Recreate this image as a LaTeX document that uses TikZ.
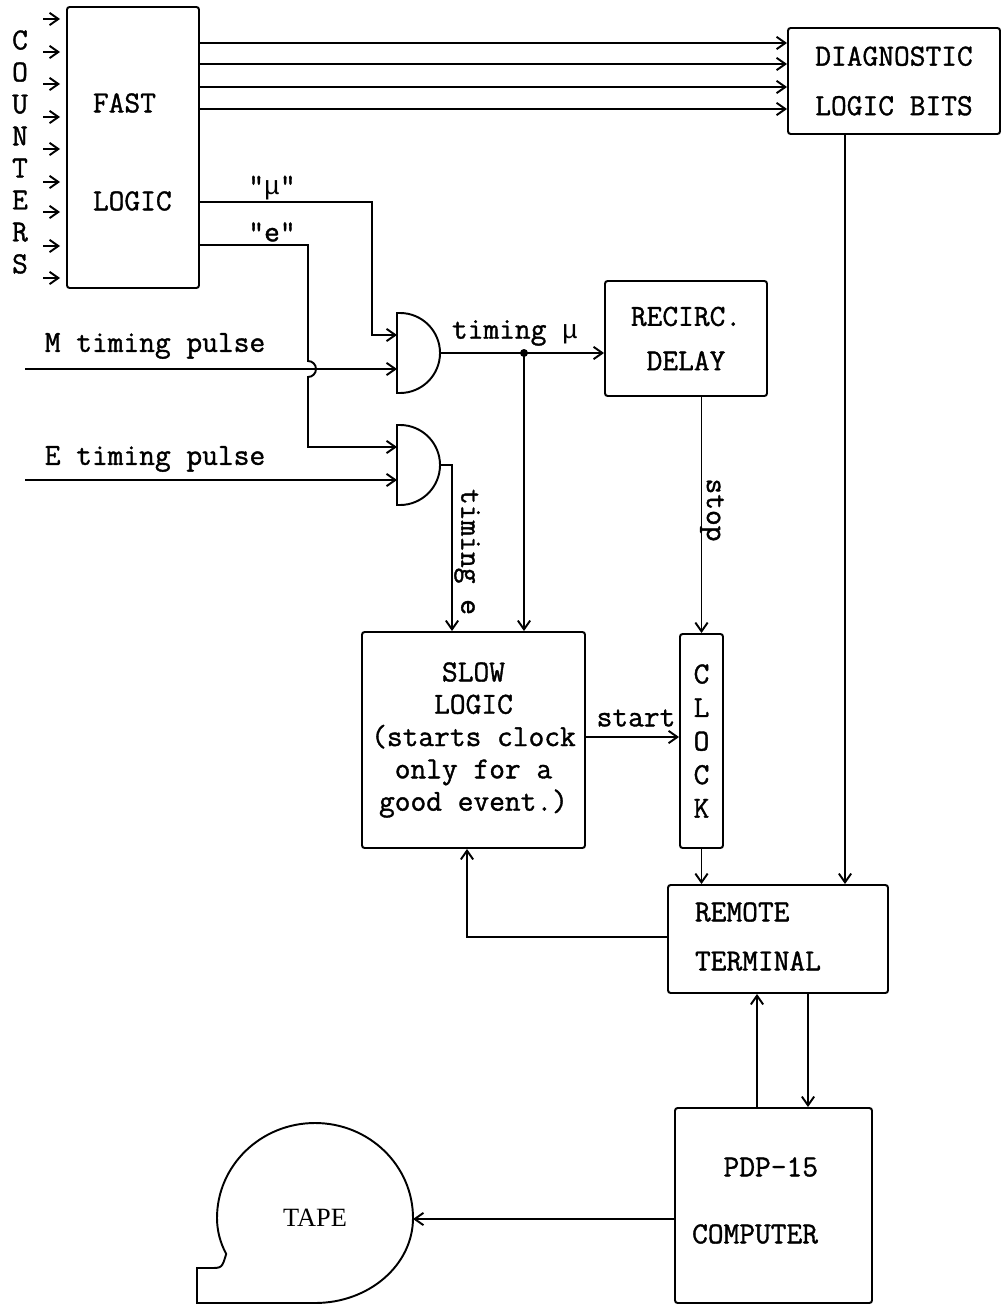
\documentclass[tikz,border=0pt]{standalone}
\usepackage{fontspec}
\setmonofont{Latin Modern Mono}[FakeBold=1.2]
\newfontfamily\tapefont{Liberation Serif}
\newfontfamily\mufont{Liberation Mono}
\usetikzlibrary{arrows.meta}
\newcommand{\pu}{0.02cm}
\newcommand{\mmu}{{\mufont\fontsize{15}{18}\selectfont μ}}
\tikzset{
  blk/.style={draw,rounded corners=1.5pt,inner sep=0pt,align=center},
  flow/.style={-{Straight Barb[length=5pt,width=7pt]}},
}

\begin{document}
\begin{tikzpicture}[x=0.02cm,y=-0.02cm,line width=1.1pt,
  font=\ttfamily\fontsize{17.4}{18.4}\selectfont]
\useasboundingbox (0,0) rectangle (1003,1314);
% blocks
\node[blk,minimum width=132*\pu,minimum height=281*\pu] (fast) at (133,147.5) {};
\node[anchor=west,inner sep=0pt] (fastA) at (92,103) {FAST};
\node[anchor=west,inner sep=0pt] (fastB) at (92,201) {LOGIC};
\node[align=center,inner sep=0pt,font=\ttfamily\fontsize{17.4}{18.2}\selectfont] (ctr) at (20,152) {C\\O\\U\\N\\T\\E\\R\\S};
\node[blk,minimum width=212*\pu,minimum height=106*\pu] (diag) at (894,81) {DIAGNOSTIC\\[9.8pt]LOGIC BITS};
\node[blk,minimum width=162*\pu,minimum height=115*\pu] (recirc) at (686,338.5) {RECIRC.\\[6.9pt]DELAY};
\node[blk,minimum width=223*\pu,minimum height=216*\pu] (slow) at (473.5,740) {SLOW\\LOGIC\\(starts clock\\only for a\\good event.)};
\node[blk,minimum width=43*\pu,minimum height=214*\pu] (clock) at (701.5,741) {C\\[0.7pt]L\\[0.7pt]O\\[0.7pt]C\\[0.7pt]K};
\node[blk,minimum width=220*\pu,minimum height=108*\pu] (remote) at (778,939) {};
\node[anchor=west,inner sep=0pt] (remA) at (694,912) {REMOTE};
\node[anchor=west,inner sep=0pt] (remB) at (694,961) {TERMINAL};
\node[blk,minimum width=197*\pu,minimum height=195*\pu] (pdp) at (773.5,1205.5) {};
\node[anchor=east,inner sep=0pt] (pdpA) at (819,1167) {PDP-15};
\node[anchor=east,inner sep=0pt] (pdpB) at (819,1234) {COMPUTER};

% tape
\draw (315,1303) arc[start angle=90,end angle=0,x radius=98,y radius=85]
  arc[start angle=0,end angle=-180,x radius=98,y radius=95]
  arc[start angle=180,end angle=155,x radius=98,y radius=85]
  .. controls (222,1268) .. (210,1268) -- (197,1268) -- (197,1303) -- cycle;
\node[font=\tapefont\fontsize{15}{18}\selectfont] (tape) at (315,1218) {TAPE};
\coordinate (tapein) at (413,1219);

% gates
\coordinate (gm) at (397,353);
\coordinate (ge) at (397,465);
\draw (gm) ++(0,-40) -- ++(3,0) arc[start angle=-90,end angle=90,radius=40] -- ++(-3,0) -- cycle;
\draw (ge) ++(0,-40) -- ++(3,0) arc[start angle=-90,end angle=90,radius=40] -- ++(-3,0) -- cycle;
\coordinate (gmout) at (440,353);
\coordinate (geout) at (440,465);
\coordinate (tap) at (524,353);
\coordinate (tee) at (452,465);
\coordinate (min) at (25,369);
\coordinate (ein) at (25,480);

% connectors
\foreach \y in {19,52,84,117,149,182,212,246,278}
  \draw[flow,shorten >=0.12cm] (43,\y) -- (fast.west |- 0,\y);
\foreach \y in {43,64,87,109}
  \draw[flow] (fast.east |- 0,\y) -- (diag.west |- 0,\y);
\draw[flow] (fast.east |- 0,202) -- (372,202) |- (gm |- 0,335);
\draw[flow] (fast.east |- 0,245) -- (308,245) -- (308,361)
  arc[start angle=-90,end angle=90,radius=8] -- (308,447) -- (ge |- 0,447);
\draw[flow] (min) -- (gm |- min);
\draw[flow] (ein) -- (ge |- ein);
\draw[flow] (gmout) -- (recirc.west |- gmout);
\fill (tap) circle[radius=4];
\draw[flow] (tap) -- (tap |- slow.north);
\draw[flow] (geout) -- (tee) -- (tee |- slow.north);
\draw[flow] (recirc.south -| clock.north) -- (clock.north);
\draw[flow] (slow.east |- 0,737) -- (clock.west |- 0,737);
\draw[flow] (clock.south) -- (clock.south |- remote.north);
\draw[flow] (diag.south -| 845,0) -- (remote.north -| 845,0);
\draw[flow] (remote.west |- 0,937) -| (slow.south -| 467,0);
\draw[flow] (pdp.north -| 757,0) -- (remote.south -| 757,0);
\draw[flow] (remote.south -| 808,0) -- (pdp.north -| 808,0);
\draw[flow] (pdp.west |- tapein) -- (tapein);

% labels
\node (lmu) at (272,188) {"\mmu"};
\node (le) at (272,232) {"e"};
\node (lm) at (155,346) {M timing pulse};
\node (lE) at (155,459) {E timing pulse};
\node (ltm) at (515,333) {timing \mmu};
\node[rotate=-90] (lte) at (467,552) {timing e};
\node[rotate=-90] (lstop) at (712,510) {stop};
\node (lstart) at (636,718) {start};
\end{tikzpicture}
\end{document}
